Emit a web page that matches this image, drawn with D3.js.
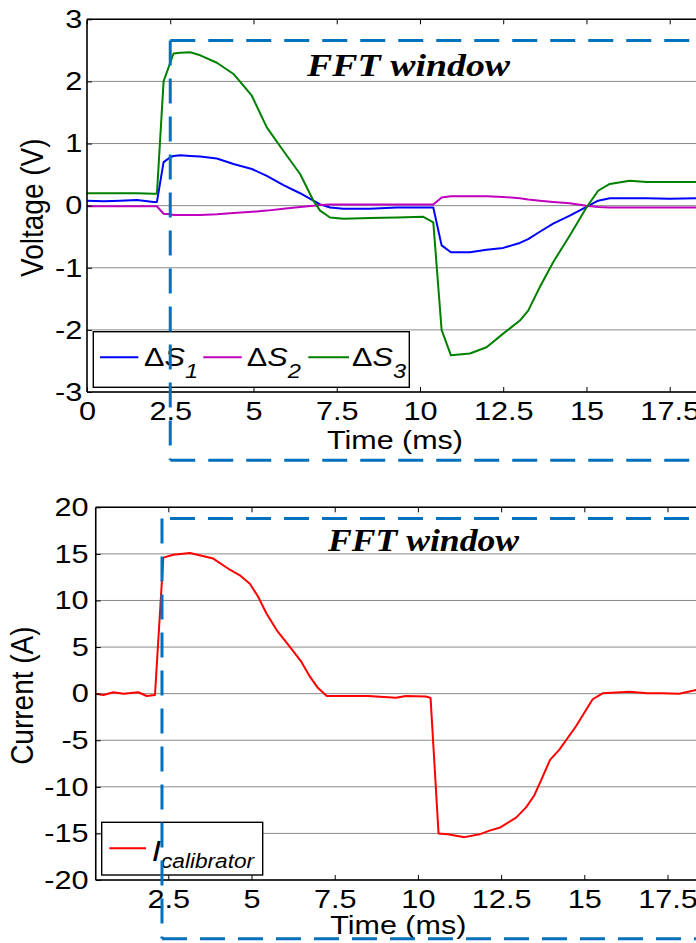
<!DOCTYPE html>
<html>
<head>
<meta charset="utf-8">
<script src="https://cdn.jsdelivr.net/npm/d3@7/dist/d3.min.js"></script>
<style>
  html, body { margin: 0; padding: 0; background: #fff; overflow: hidden; }
  svg { display: block; }
</style>
</head>
<body>
<svg id="chart" width="696" height="943"></svg>
<script>
// ---------- DATA ----------
const topTime = [0, 0.5, 1.0, 1.5, 2.0, 2.1, 2.3, 2.5, 2.6, 2.8, 3.1, 3.4, 3.9, 4.4, 4.95, 5.4, 5.9, 6.4, 6.8, 7.0, 7.3, 7.7, 8.5, 9.3, 10.1, 10.4, 10.65, 10.93, 11.5, 12.0, 12.5, 13.0, 13.25, 13.6, 14.0, 14.5, 15.0, 15.35, 15.7, 16.3, 16.8, 17.5, 18.5];
const dS1 = [0.08, 0.07, 0.08, 0.09, 0.06, 0.06, 0.70, 0.78, 0.80, 0.81, 0.80, 0.79, 0.76, 0.67, 0.59, 0.48, 0.33, 0.20, 0.08, 0.02, -0.03, -0.05, -0.05, -0.03, -0.03, -0.03, -0.64, -0.75, -0.75, -0.71, -0.68, -0.60, -0.54, -0.42, -0.29, -0.16, -0.02, 0.08, 0.12, 0.12, 0.12, 0.11, 0.12];
const dS2 = [-0.01, -0.01, -0.01, -0.01, -0.01, -0.01, -0.13, -0.14, -0.15, -0.15, -0.15, -0.15, -0.14, -0.12, -0.10, -0.08, -0.05, -0.02, 0.00, 0.01, 0.02, 0.02, 0.02, 0.02, 0.02, 0.02, 0.13, 0.15, 0.15, 0.15, 0.14, 0.12, 0.10, 0.08, 0.06, 0.04, 0.00, -0.02, -0.03, -0.03, -0.03, -0.03, -0.03];
const dS3 = [0.20, 0.20, 0.20, 0.20, 0.19, 0.19, 2.00, 2.30, 2.45, 2.46, 2.47, 2.42, 2.30, 2.12, 1.77, 1.26, 0.88, 0.51, 0.08, -0.08, -0.19, -0.21, -0.20, -0.19, -0.18, -0.27, -2.00, -2.41, -2.38, -2.28, -2.06, -1.85, -1.69, -1.31, -0.91, -0.48, -0.03, 0.24, 0.35, 0.40, 0.38, 0.38, 0.38];

const botTime = [0.32, 0.55, 0.85, 1.15, 1.6, 1.85, 2.1, 2.35, 2.65, 3.15, 3.85, 4.35, 4.65, 4.95, 5.2, 5.45, 5.76, 6.16, 6.5, 6.76, 7.0, 7.26, 7.96, 8.5, 9.34, 9.64, 10.24, 10.38, 10.62, 10.9, 11.4, 11.85, 12.15, 12.45, 12.95, 13.25, 13.5, 13.7, 13.97, 14.25, 14.75, 15.25, 15.55, 16.35, 16.9, 17.36, 17.85, 18.36, 18.5];
const iCal = [0, -0.14, 0.15, 0, 0.15, -0.25, -0.14, 14.6, 14.9, 15.1, 14.5, 13.3, 12.7, 11.8, 10.4, 8.6, 6.8, 5.0, 3.4, 1.8, 0.6, -0.25, -0.25, -0.25, -0.45, -0.25, -0.3, -0.45, -15.0, -15.1, -15.4, -15.1, -14.7, -14.4, -13.3, -12.2, -10.9, -9.3, -7.1, -6.0, -3.5, -0.6, 0.04, 0.2, 0.05, 0.04, 0.0, 0.4, 0.4];

const topXTicks = [0, 2.5, 5, 7.5, 10, 12.5, 15, 17.5];
const topYTicks = [-3, -2, -1, 0, 1, 2, 3];
const botXTicks = [2.5, 5, 7.5, 10, 12.5, 15, 17.5];
const botYTicks = [-20, -15, -10, -5, 0, 5, 10, 15, 20];

const topSeriesNames = ["1", "2", "3"];
const topSeriesColors = ["#0000ff", "#bf00bf", "#008000"];
const botSeriesColor = "#ff0000";

// ---------- DRAW ----------
const svg = d3.select("#chart");
const SX = 1.18;
const SANS = "'Liberation Sans', Arial, sans-serif";
const SERIF = "'Liberation Serif', 'Times New Roman', serif";
const winColor = "#0072bd";

function panel(cfg) {
  const g = svg.append("g");
  const x = d3.scaleLinear().domain(cfg.xDomain).range(cfg.xRange);
  const y = d3.scaleLinear().domain(cfg.yDomain).range(cfg.yRange);
  const [x0, x1] = cfg.xRange, [yb, yt] = cfg.yRange;

  // grid
  g.append("g").selectAll("line").data(cfg.yTicks).join("line")
    .attr("x1", x0).attr("x2", x1)
    .attr("y1", d => y(d)).attr("y2", d => y(d))
    .attr("stroke", "#8a8a8a").attr("stroke-width", 1);

  // curves
  const line = d3.line().x(d => x(d[0])).y(d => y(d[1]));
  cfg.series.forEach(s => {
    g.append("path").datum(cfg.time.map((t, i) => [t, s.values[i]]))
      .attr("d", line).attr("fill", "none")
      .attr("stroke", s.color).attr("stroke-width", 2).attr("stroke-linejoin", "round");
  });

  // axes
  const ax = d3.axisBottom(x).tickValues(cfg.xTicks).tickSize(-5).tickPadding(9.5).tickFormat(d => String(d));
  const axG = g.append("g").attr("transform", `translate(0,${yb})`).call(ax);
  const ayG = g.append("g").attr("transform", `translate(${x0},0)`)
    .call(d3.axisLeft(y).tickValues(cfg.yTicks).tickSize(-5).tickPadding(cfg.yPad).tickFormat(d => String(d)));
  const atG = g.append("g").attr("transform", `translate(0,${yt})`)
    .call(d3.axisTop(x).tickValues(cfg.xTicks).tickSize(-5).tickFormat(""));
  [axG, ayG, atG].forEach(a => {
    a.select(".domain").remove();
    a.selectAll("line").attr("stroke", "#000").attr("stroke-width", 1);
    a.selectAll("text").attr("font-family", SANS).attr("font-size", 26).attr("fill", "#000")
      .attr("transform", `scale(${SX},1)`);
  });
  // box lines
  g.append("line").attr("x1", x0).attr("x2", x0).attr("y1", yt).attr("y2", yb).attr("stroke", "#000").attr("stroke-width", 1.6);
  g.append("line").attr("x1", x0).attr("x2", x1).attr("y1", yb).attr("y2", yb).attr("stroke", "#000").attr("stroke-width", 1.6);
  g.append("line").attr("x1", x0).attr("x2", x1).attr("y1", yt).attr("y2", yt).attr("stroke", "#000").attr("stroke-width", 1.6);
  g.append("line").attr("x1", x1).attr("x2", x1).attr("y1", yt).attr("y2", yb).attr("stroke", "#000").attr("stroke-width", 1.6);

  // axis titles
  g.append("g").attr("transform", `translate(${(x0 + x1) / 2},${cfg.xTitleY}) scale(1.22,1)`)
    .append("text").attr("text-anchor", "middle").attr("font-family", SANS).attr("font-size", 25)
    .text("Time (ms)");
  g.append("g").attr("transform", `translate(${cfg.yTitleX},${(yt + yb) / 2 + 2}) scale(1.1,1) rotate(-90)`)
    .append("text").attr("text-anchor", "middle").attr("font-family", SANS).attr("font-size", 28)
    .text(cfg.yTitle);

  // legend
  const L = cfg.legend;
  g.append("rect").attr("x", L.x).attr("y", L.y).attr("width", L.w).attr("height", L.h)
    .attr("fill", "#fff").attr("stroke", "#000").attr("stroke-width", 1.4);
  L.items.forEach(it => {
    g.append("line").attr("x1", it.lx0).attr("x2", it.lx1).attr("y1", it.ly).attr("y2", it.ly)
      .attr("stroke", it.color).attr("stroke-width", 2);
    const t = g.append("g").attr("transform", `translate(${it.tx},${it.ty}) scale(${it.sx},1)`)
      .append("text").attr("font-family", SANS).attr("font-size", it.fs).attr("fill", "#000");
    it.parts.forEach(p => {
      const ts = t.append("tspan").text(p.text);
      if (p.italic) ts.attr("font-style", "italic");
      if (p.fs) ts.attr("font-size", p.fs);
      if (p.dy) ts.attr("dy", p.dy);
    });
  });

  // FFT window (dashed)
  const W = cfg.win;
  const dash = "25,13";
  const dl = (xa, ya, xb, yb2) => g.append("line").attr("x1", xa).attr("y1", ya).attr("x2", xb).attr("y2", yb2)
    .attr("stroke", winColor).attr("stroke-width", 3).attr("stroke-dasharray", dash);
  dl(x(W.vt), y(W.top), x(W.vt), y(W.bottom));
  dl(x(W.ht), y(W.top), 760, y(W.top));
  dl(x(W.vt), y(W.bottom), 760, y(W.bottom));

  // FFT window label
  g.append("text").attr("x", x(W.labelT)).attr("y", y(W.labelV))
    .attr("font-family", SERIF).attr("font-weight", "bold").attr("font-style", "italic")
    .attr("font-size", 32).attr("textLength", W.labelW).attr("lengthAdjust", "spacingAndGlyphs")
    .text("FFT window");
}

panel({
  xDomain: [0, 18.5], xRange: [87, 703],
  yDomain: [-3, 3], yRange: [392, 19.3],
  xTicks: topXTicks, yTicks: topYTicks, yPad: 4,
  time: topTime,
  series: [dS1, dS2, dS3].map((v, i) => ({ values: v, color: topSeriesColors[i] })),
  xTitleY: 449, yTitleX: 43, yTitle: "Voltage (V)",
  legend: {
    x: 93.3, y: 331.7, w: 316, h: 55.6,
    items: topSeriesNames.map((n, i) => ({
      color: topSeriesColors[i],
      lx0: [100, 203.3, 308.3][i], lx1: [138.3, 241.7, 349][i], ly: 357.3,
      tx: [144, 246.7, 352][i], ty: 365.7, sx: SX, fs: 26,
      parts: [{ text: "\u0394" }, { text: "S", italic: true }, { text: n, italic: true, fs: 20, dy: 12.6 }]
    }))
  },
  win: { vt: 2.5, ht: 2.5, top: 2.66, bottom: -4.1, labelT: 6.61, labelV: 2.09, labelW: 203 }
});

panel({
  xDomain: [0.32, 18.5], xRange: [95.75, 700.8],
  yDomain: [-20, 20], yRange: [880, 507.3],
  xTicks: botXTicks, yTicks: botYTicks, yPad: 6,
  time: botTime,
  series: [{ values: iCal, color: botSeriesColor }],
  xTitleY: 934, yTitleX: 33.3, yTitle: "Current (A)",
  legend: {
    x: 101.7, y: 822.3, w: 161, h: 52.7,
    items: [{
      color: botSeriesColor, lx0: 109.3, lx1: 146, ly: 848.3,
      tx: 151.7, ty: 860.7, sx: 1.16, fs: 29,
      parts: [{ text: "I", italic: true }, { text: "calibrator", italic: true, fs: 19.5, dy: 7.6 }]
    }]
  },
  win: { vt: 2.31, ht: 2.55, top: 18.8, bottom: -26.3, labelT: 7.3, labelV: 15.35, labelW: 191 }
});
</script>
</body>
</html>
